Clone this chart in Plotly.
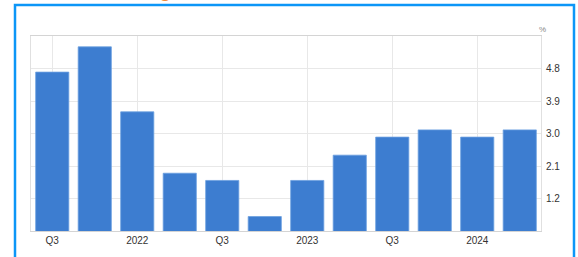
import plotly.graph_objects as go

# Data
quarters = ["2021 Q3", "2021 Q4", "2022 Q1", "2022 Q2", "2022 Q3", "2022 Q4",
            "2023 Q1", "2023 Q2", "2023 Q3", "2023 Q4", "2024 Q1", "2024 Q2"]
values = [4.7, 5.4, 3.6, 1.9, 1.7, 0.7, 1.7, 2.4, 2.9, 3.1, 2.9, 3.1]
tick_cats = ["2021 Q3", "2022 Q1", "2022 Q3", "2023 Q1", "2023 Q3", "2024 Q1"]
tick_labels = ["Q3", "2022", "Q3", "2023", "Q3", "2024"]
y_ticks = [1.2, 2.1, 3.0, 3.9, 4.8]
y_tick_labels = ["1.2", "2.1", "3.0", "3.9", "4.8"]

W, H = 578, 257
L, R, T, B = 31, 37, 36, 26
pw, ph = W - L - R, H - T - B

def px(x):
    return (x - L) / pw

def py(y):
    return (H - B - y) / ph

fig = go.Figure()
fig.add_trace(go.Bar(
    x=quarters, y=values,
    marker=dict(color="#3d7dd0", line=dict(color="#6b9fe0", width=0.8)),
    width=0.78,
))

fig.update_layout(
    width=W, height=H,
    margin=dict(l=L, r=R, t=T, b=B),
    paper_bgcolor="white", plot_bgcolor="white",
    showlegend=False,
    font=dict(family="Liberation Sans, Arial, sans-serif", size=10, color="#333333"),
    xaxis=dict(
        type="category", categoryorder="array", categoryarray=quarters,
        range=[-0.5, 11.5],
        tickmode="array", tickvals=tick_cats, ticktext=tick_labels,
        showgrid=True, gridcolor="#e8e8e8", gridwidth=1,
        showline=True, linecolor="#d4d4d4", linewidth=1, mirror=True,
        ticks="", tickfont=dict(size=10, color="#333333"),
        fixedrange=True,
    ),
    yaxis=dict(
        side="right", range=[0.3, 5.7],
        tickmode="array", tickvals=y_ticks, ticktext=y_tick_labels,
        showgrid=True, gridcolor="#e8e8e8", gridwidth=1,
        showline=True, linecolor="#e0e0e0", linewidth=1, mirror=True,
        zeroline=False, ticks="", ticklabelstandoff=2,
        tickfont=dict(size=10, color="#333333"),
        fixedrange=True,
    ),
    bargap=0.22,
)

# Blue frame (screenshot border)
x0, x1 = px(15), px(574)
y_top, y_bot = py(5), py(262)
fig.add_shape(type="path", xref="paper", yref="paper",
              path=f"M {x0},{y_bot} L {x0},{y_top} L {x1},{y_top} L {x1},{y_bot}",
              line=dict(color="#0c96f7", width=2.5), layer="above")

# Unit label
fig.add_annotation(xref="paper", yref="paper", x=px(548), y=py(23),
                   text="%", showarrow=False, font=dict(size=8, color="#888888"))

# Cut-off orange title (only descenders visible)
fig.add_annotation(xref="paper", yref="paper", x=px(182), y=py(2.5),
                   xanchor="right", yanchor="bottom",
                   text="<b>Growth Rate, % Change</b>", showarrow=False,
                   font=dict(size=19, color="#f08a3c"), borderpad=0)

fig.write_html("out.html",
               config={"displayModeBar": False},
               post_script="document.body.style.margin='0px';document.body.style.padding='0px';")
